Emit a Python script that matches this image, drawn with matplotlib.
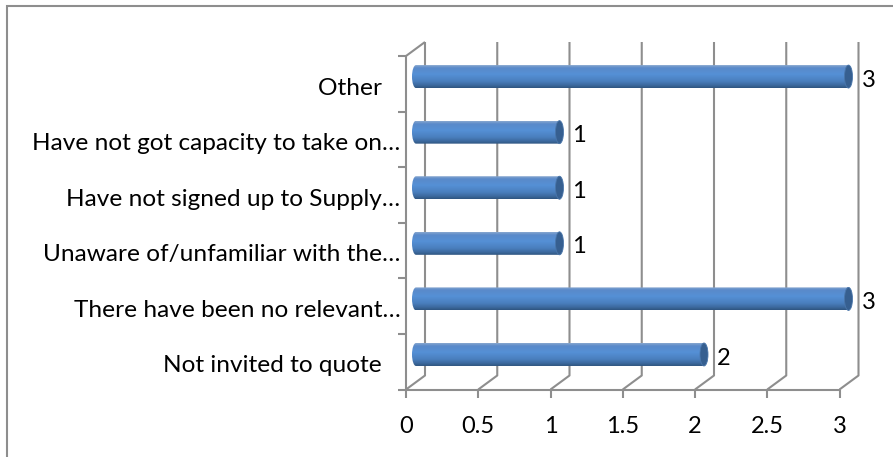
import numpy as np
import matplotlib
matplotlib.use("Agg")
import matplotlib.pyplot as plt
from matplotlib.lines import Line2D
from matplotlib.patches import Ellipse, PathPatch
from matplotlib.path import Path
from matplotlib.colors import LinearSegmentedColormap

categories = ["Not invited to quote\u00a0\u00a0\u00a0",
              "There have been no relevant\u2026",
              "Unaware of/unfamiliar with the\u2026",
              "Have not signed up to Supply\u2026",
              "Have not got capacity to take on\u2026",
              "Other\u00a0\u00a0\u00a0"]
values = [2, 3, 1, 1, 1, 3]
x_ticks = [0, 0.5, 1, 1.5, 2, 2.5, 3]
x_tick_labels = ["0", "0.5", "1", "1.5", "2", "2.5", "3"]

W, H = 893, 457
GREY = "#8e8e8e"
plt.rcParams["font.family"] = ["Lato", "DejaVu Sans"]
fig = plt.figure(figsize=(W / 100, H / 100), dpi=100)
fig.add_artist(Line2D([7 / W, 7 / W, 1], [0, 1 - 5.8 / H, 1 - 5.8 / H], transform=fig.transFigure,
                      color=GREY, lw=1.5, solid_joinstyle="miter"))
L, R, T, B = 406, 839.5, 56, 389.5
ax = fig.add_axes([L / W, 1 - B / H, (R - L) / W, (B - T) / H])
ax.patch.set_alpha(0)
for s in ax.spines.values():
    s.set_visible(False)

ux = (R - L) / 3
uy = (B - T) / 6
dx, dy = 19 / ux, 14 / uy   # depth offset of the 3-D back wall
kw = dict(color=GREY, lw=1.5, clip_on=False, solid_capstyle="butt", zorder=1)
for t in x_ticks:
    ax.plot([t, t + dx, t + dx], [0, dy, 6 + dy], **kw)
    ax.plot([t, t], [0, -8 / uy], **kw)
ax.plot([0, 3], [0, 0], **kw)
ax.plot([0, 0], [0, 6], **kw)
ax.plot([0, dx], [6, 6 + dy], **kw)
for i in range(7):
    ax.plot([-8 / ux, 0], [i, i], **kw)

cmap = LinearSegmentedColormap.from_list(
    "cyl", [(0, "#86a6cf"), (0.12, "#5a8aca"), (0.4, "#5590d6"), (0.7, "#4a7fbe"), (0.88, "#3d6a9f"), (1, "#2f5580")])
grad = np.linspace(0, 1, 64).reshape(-1, 1)
h = 23 / uy
off_l, off_r = 6 / ux, 13 / ux
rx = 4 / ux
for i, v in enumerate(values):
    yc = i + 0.63
    y0, y1 = yc - h / 2, yc + h / 2
    x0, x1 = off_l, v + off_r
    k = 0.5523
    verts = [(x0 + rx, y0), (x1 - rx, y0),
             (x1 - rx, y1), (x0 + rx, y1),
             (x0 + rx * (1 - k), y1), (x0, yc + h / 2 * k), (x0, yc),
             (x0, yc - h / 2 * k), (x0 + rx * (1 - k), y0), (x0 + rx, y0)]
    codes = [Path.MOVETO, Path.LINETO, Path.LINETO, Path.LINETO,
             Path.CURVE4, Path.CURVE4, Path.CURVE4, Path.CURVE4, Path.CURVE4, Path.CURVE4]
    clip = PathPatch(Path(verts, codes), transform=ax.transData, fc="none", ec="none")
    ax.add_patch(clip)
    im = ax.imshow(grad, extent=(x0, x1, y0, y1), origin="upper", aspect="auto",
                   cmap=cmap, zorder=3, interpolation="bilinear")
    im.set_clip_path(clip)
    im.set_clip_box(fig.bbox)
    ax.add_patch(Ellipse((x1 - rx, yc), 2 * rx, h, fc="#365f90", ec="#4a76aa", lw=0.6, zorder=4, clip_on=False))
    ax.text(v + 22 / ux, i + 0.565, str(v), fontsize=17, color="black", ha="left", va="center", clip_on=False)
ax.set_xlim(0, 3)
ax.set_ylim(0, 6)

ax.set_xticks(x_ticks)
ax.set_xticklabels(x_tick_labels, fontsize=17, color="black")
ax.tick_params(axis="x", length=0, pad=19)
ax.set_yticks([])
ax.set_yticks([i + 0.46 for i in range(6)], minor=True)
ax.set_yticklabels(categories, minor=True, fontsize=17.6, color="black")
ax.tick_params(axis="y", which="minor", length=0, pad=4)
fig.savefig("out.png", dpi=100)
